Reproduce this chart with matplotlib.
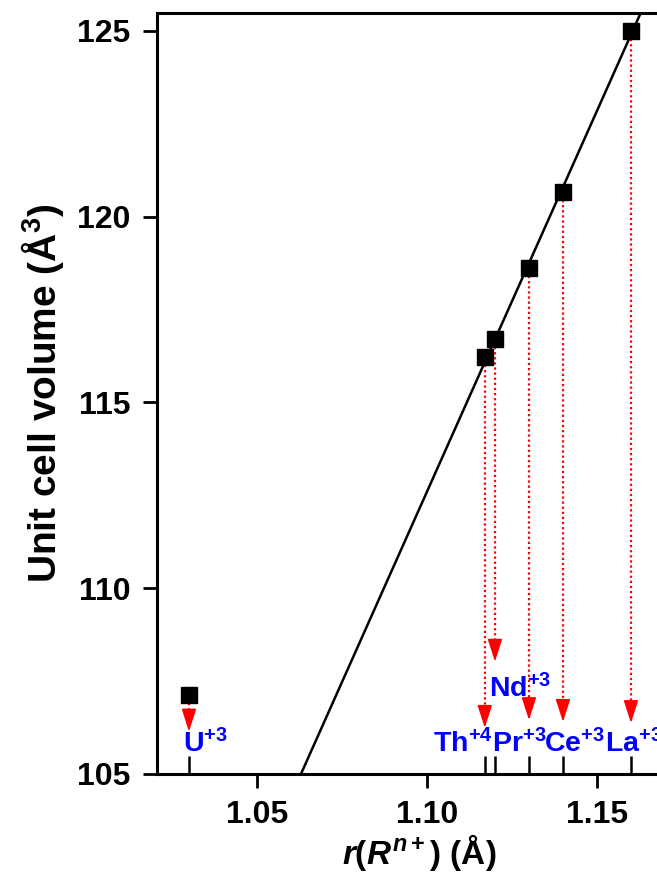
import numpy as np
import matplotlib
matplotlib.use("Agg")
import matplotlib.pyplot as plt

plt.rcParams["font.family"] = ["Liberation Sans", "DejaVu Sans"]
plt.rcParams["font.weight"] = "bold"
plt.rcParams["mathtext.fontset"] = "custom"
plt.rcParams["mathtext.rm"] = "Liberation Sans:bold"
plt.rcParams["mathtext.bf"] = "Liberation Sans:bold"
plt.rcParams["mathtext.it"] = "Liberation Sans:bold:italic"
plt.rcParams["mathtext.default"] = "rm"

# ionic radius (A) and unit cell volume (A^3)
ions = ["U", "Th", "Nd", "Pr", "Ce", "La"]
charges = ["+3", "+4", "+3", "+3", "+3", "+3"]
radius = [1.03, 1.117, 1.12, 1.13, 1.14, 1.16]
volume = [107.13, 116.22, 116.70, 118.63, 120.67, 125.0]
in_fit = [False, True, True, True, True, True]

# where each arrow ends and where its label sits
arrow_tip = [106.14, 106.24, 108.02, 106.45, 106.40, 106.37]
label_x = [1.0283, 1.1019, 1.1183, 1.1190, 1.1344, 1.1524]
label_y = [105.57, 105.57, 107.05, 105.57, 105.57, 105.57]

fig = plt.figure(figsize=(6.57, 8.81), dpi=100)
ax = fig.add_axes([0.239, 0.1215, 0.799, 0.8637])
ax.set_xlim(1.0206, 1.175)
ax.set_ylim(105, 125.48)

# linear fit through the points on the line
fx = np.array([r for r, f in zip(radius, in_fit) if f])
fy = np.array([v for v, f in zip(volume, in_fit) if f])
k, b = np.polyfit(fx, fy, 1)
xx = np.array([1.0, 1.2])
ax.plot(xx, k * xx + b, color="black", lw=1.8, zorder=2)

ax.plot(radius, volume, "s", color="black", ms=11, zorder=4)

head = 0.5  # arrow head length in data units
for r, v, tip, ion, ch, lx, ly in zip(radius, volume, arrow_tip, ions, charges, label_x, label_y):
    ax.plot([r, r], [v - 0.22, tip + head], color="red", lw=1.6, ls=(0, (1, 1.3)), zorder=3)
    ax.annotate("", xy=(r, tip), xytext=(r, tip + head),
                arrowprops=dict(arrowstyle="-|>,head_length=1.4,head_width=0.45",
                                color="red", lw=1.2, shrinkA=0, shrinkB=0),
                zorder=3)
    ax.text(lx, ly, ion + "$^{" + ch + "}$", color="#0000ff", fontsize=20.5,
            fontweight="bold", ha="left", va="baseline")

ax.set_xticks([1.05, 1.10, 1.15])
ax.set_xticklabels(["1.05", "1.10", "1.15"])
ax.set_yticks([105, 110, 115, 120, 125])
ax.set_xticks(radius, minor=True)
ax.tick_params(axis="both", which="major", direction="out", length=10, width=2,
               labelsize=23, pad=9)
ax.tick_params(axis="x", which="minor", direction="in", length=13, width=1.8)
ax.tick_params(axis="y", which="minor", left=False)
for lab in ax.get_xticklabels() + ax.get_yticklabels():
    lab.set_fontweight("bold")

for s in ["left", "bottom", "top"]:
    ax.spines[s].set_linewidth(2.2)
ax.spines["right"].set_visible(False)

ax.set_xlabel(r"$\mathit{r}$($\mathit{R}^{\mathit{n}+}$) (Å)", fontsize=24,
              fontweight="bold", labelpad=1)
ax.set_ylabel("Unit cell volume (Å$^3$)", fontsize=28, fontweight="bold", labelpad=8)

fig.savefig("out.png", dpi=100)
